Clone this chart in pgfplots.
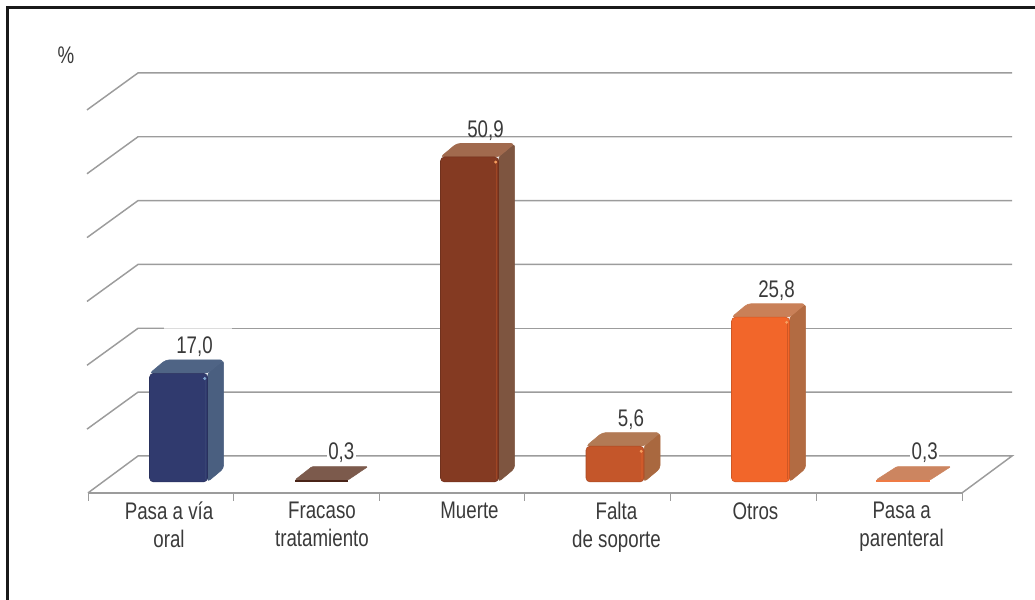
\documentclass[border=0pt]{standalone}
\usepackage{fontspec}
\setmainfont[FakeStretch=0.78]{Liberation Sans}
\usepackage{pgfplots}
\pgfplotsset{compat=1.18}

\definecolor{gridgray}{HTML}{9C9C9C}
\definecolor{txt}{HTML}{3A3A3A}
\definecolor{navyF}{HTML}{303A6E}
\definecolor{navyS}{HTML}{4A5F80}
\definecolor{navyT}{HTML}{4F6485}
\definecolor{brownF}{HTML}{4A2418}
\definecolor{brownT}{HTML}{7C5A4C}
\definecolor{rustF}{HTML}{843A22}
\definecolor{rustS}{HTML}{7E5540}
\definecolor{rustT}{HTML}{A16A4E}
\definecolor{burntF}{HTML}{C4562A}
\definecolor{burntS}{HTML}{A9683F}
\definecolor{burntT}{HTML}{B27A55}
\definecolor{orangeF}{HTML}{F2662A}
\definecolor{orangeS}{HTML}{B26B42}
\definecolor{orangeT}{HTML}{C98058}
\definecolor{peachF}{HTML}{EF7B45}
\definecolor{peachT}{HTML}{CC8560}
\definecolor{glintB}{HTML}{7FA6D0}
\definecolor{glintO}{HTML}{F7A060}

\pgfplotsset{
  wall/.style={gridgray, line width=1.1pt},
  face/.style={fill=#1, draw=#1, rounded corners=2.5pt},
  front/.style={ybar, bar width=43.5pt, bar shift=0pt, fill=#1, draw=#1!85!black, rounded corners=3pt,
    nodes near coords, nodes near coords style={font=\fontsize{18}{20}\selectfont, text=txt, anchor=south, xshift=12pt, yshift=9pt}},
  flat/.style={ybar, fill=#1, draw=none,
    nodes near coords, nodes near coords style={font=\fontsize{18}{20}\selectfont, text=txt, fill=white, inner xsep=1pt, inner ysep=0pt, anchor=south, yshift=13pt}},
  bevel/.style={#1, line width=1pt},
  glint/.style={only marks, mark=*, mark size=0.9pt, color=#1},
}

\begin{document}
\begin{tikzpicture}
  \begin{axis}[
    scale only axis,
    width=655.5pt,
    height=315pt,
    xmin=-0.622, xmax=5.385,
    ymin=-1.72, ymax=64.07,
    clip=false,
    axis x line=bottom,
    axis y line=none,
    x axis line style={-, gridgray, line width=1.1pt},
    xtick={-0.065,0.986,2,3.01,3.965,4.97},
    xticklabels={{Pasa a vía\\oral},{Fracaso\\tratamiento},{Muerte},{Falta\\de soporte},{Otros},{Pasa a\\parenteral}},
    x tick label style={align=center, text=txt, font=\fontsize{18}{20.5}\selectfont, anchor=north, yshift=-3.5pt},
    major tick length=0pt,
    minor xtick={-0.622,0.379,1.380,2.381,3.383,4.384,5.385},
    minor tick length=6pt,
    tick align=outside,
    minor tick style={gridgray, line width=0.7pt},
    /pgf/number format/.cd, use comma, fixed, fixed zerofill, precision=1, assume math mode=true,
  ]

    % back wall and left wall lines
    \addplot[wall] coordinates {(-0.622,-1.72) (-0.278,4.07) (5.729,4.07) (5.385,-1.72)};
    \addplot[wall] coordinates {(-0.629,8.27) (-0.278,14.07) (5.729,14.07)};
    \addplot[wall] coordinates {(-0.629,18.27) (-0.278,24.07) (-0.1,24.07)};
    \addplot[gridgray!35, line width=1pt] coordinates {(-0.1,24.07) (0.37,24.07)};
    \addplot[wall] coordinates {(0.37,24.07) (5.729,24.07)};
    \addplot[wall] coordinates {(-0.629,28.27) (-0.278,34.07) (5.729,34.07)};
    \addplot[wall] coordinates {(-0.629,38.27) (-0.278,44.07) (5.729,44.07)};
    \addplot[wall] coordinates {(-0.629,48.27) (-0.278,54.07) (5.729,54.07)};
    \addplot[wall] coordinates {(-0.629,58.27) (-0.278,64.07) (5.729,64.07)};

    % Pasa a via oral
    \addplot[face=navyS] coordinates {(0.199,0) (0.31,2.11) (0.31,19.11) (0.199,17.0)} --cycle;
    \addplot[face=navyT] coordinates {(-0.199,17.0) (0.199,17.0) (0.31,19.11) (-0.088,19.11)} --cycle;
    \addplot[front=navyF] coordinates {(0,17.0)};
    \addplot[bevel=navyF!75!navyS] coordinates {(0.185,0.5) (0.185,16.4)};
    \addplot[glint=glintB] coordinates {(0.18,16.2)};

    % Fracaso tratamiento
    \addplot[fill=brownT, draw=brownT, rounded corners=1pt] coordinates {(0.80,0.3) (1.165,0.3) (1.302,2.41) (0.918,2.41)} --cycle;
    \addplot[flat=brownF, bar width=40pt, bar shift=-1.9pt, nodes near coords style={xshift=13pt}] coordinates {(1,0.3)};

    % Muerte
    \addplot[face=rustS] coordinates {(2.199,0) (2.31,2.11) (2.31,53.01) (2.199,50.9)} --cycle;
    \addplot[face=rustT] coordinates {(1.801,50.9) (2.199,50.9) (2.31,53.01) (1.912,53.01)} --cycle;
    \addplot[front=rustF] coordinates {(2,50.9)};
    \addplot[bevel=rustF!75!orangeF] coordinates {(2.185,0.5) (2.185,50.3)};
    \addplot[glint=glintO] coordinates {(2.18,50.1)};

    % Falta de soporte
    \addplot[face=burntS] coordinates {(3.199,0) (3.31,2.11) (3.31,7.71) (3.199,5.6)} --cycle;
    \addplot[face=burntT] coordinates {(2.801,5.6) (3.199,5.6) (3.31,7.71) (2.912,7.71)} --cycle;
    \addplot[front=burntF] coordinates {(3,5.6)};
    \addplot[bevel=burntF!75!orangeF] coordinates {(3.185,0.5) (3.185,5.0)};
    \addplot[glint=glintO] coordinates {(3.18,4.8)};

    % Otros
    \addplot[face=orangeS] coordinates {(4.199,0) (4.31,2.11) (4.31,27.91) (4.199,25.8)} --cycle;
    \addplot[face=orangeT] coordinates {(3.801,25.8) (4.199,25.8) (4.31,27.91) (3.912,27.91)} --cycle;
    \addplot[front=orangeF] coordinates {(4,25.8)};
    \addplot[bevel=orangeF!85!black] coordinates {(4.185,0.5) (4.185,25.2)};
    \addplot[glint=glintO] coordinates {(4.18,25.0)};

    % Pasa a parenteral
    \addplot[fill=peachT, draw=peachT, rounded corners=1pt] coordinates {(4.794,0.3) (5.165,0.3) (5.309,2.41) (4.938,2.41)} --cycle;
    \addplot[flat=peachF, bar width=40.5pt, bar shift=-2.25pt, nodes near coords style={xshift=14pt}] coordinates {(5,0.3)};

    \node[font=\fontsize{18}{20}\selectfont, text=txt] at (axis cs:-0.773,66.9) {\%};

    \coordinate (nw) at (axis cs:-1.2268,75.49);
    \coordinate (se) at (axis cs:5.8866,-18.48);
    \coordinate (fnw) at (axis cs:-1.172,74.24);
  \end{axis}
  \path[use as bounding box] (nw) rectangle (se);
  \draw[line width=2.25pt, black!90] (se -| fnw) -- (fnw) -- (fnw -| se);
\end{tikzpicture}
\end{document}
